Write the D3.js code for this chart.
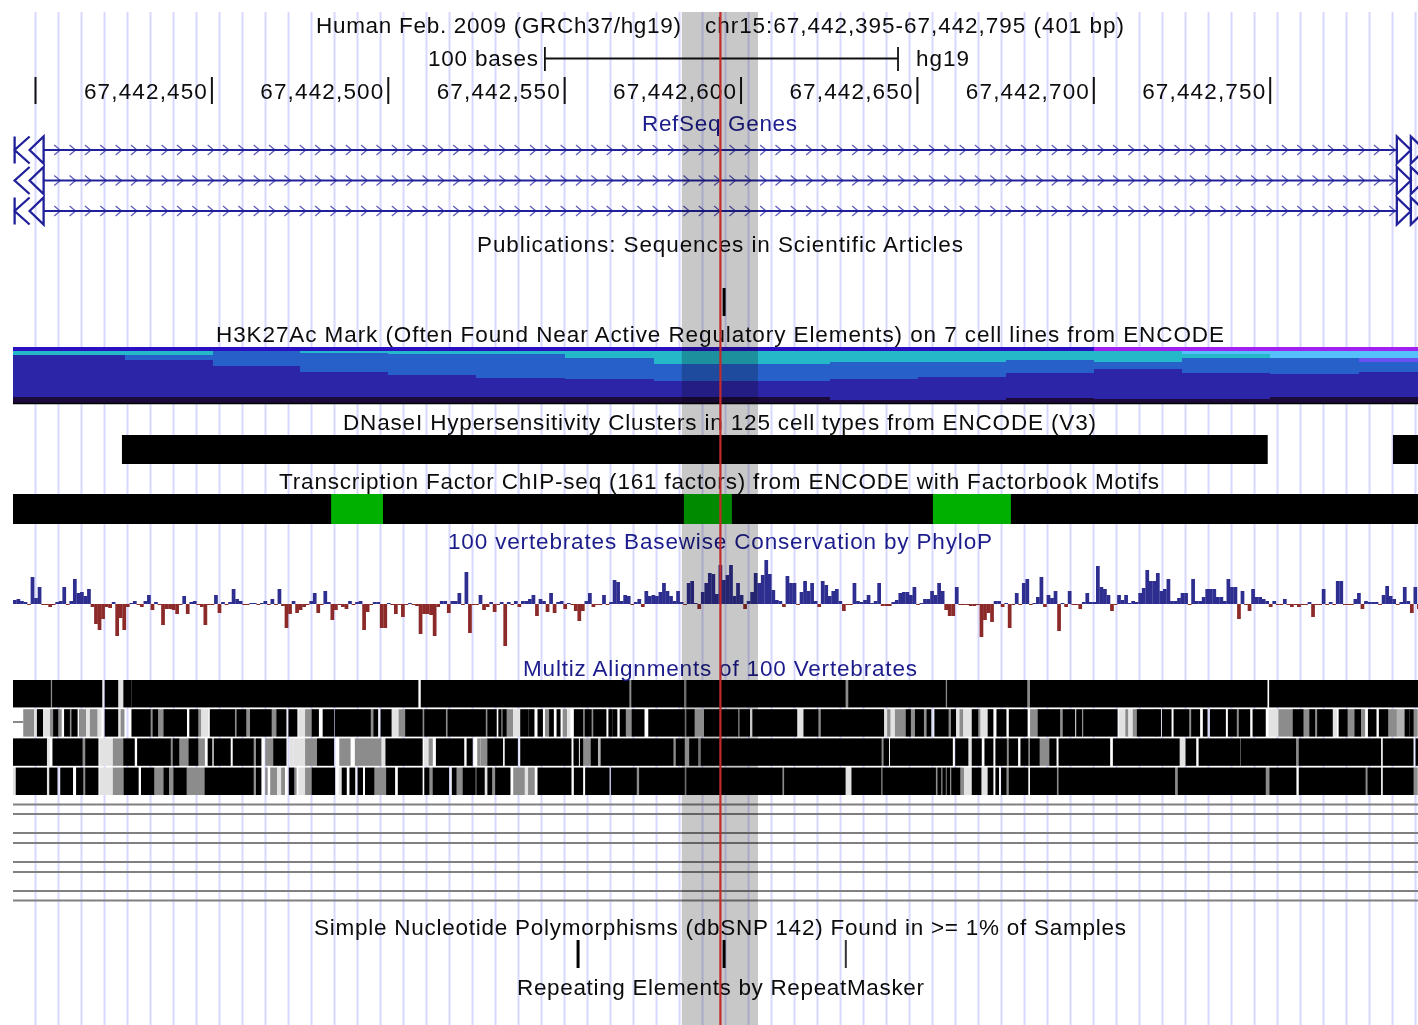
<!DOCTYPE html>
<html><head><meta charset="utf-8">
<script src="https://cdn.jsdelivr.net/npm/d3@7/dist/d3.min.js"></script>
<style>
html,body{margin:0;padding:0;background:#fff;overflow:hidden}
svg{display:block;filter:blur(0.55px)}
text{font-family:"Liberation Sans",Arial,sans-serif;font-size:22.5px;fill:#0c0c0c}
</style></head><body>
<svg id="c" width="1418" height="1025"></svg>
<script>
// ---------- data (genomic positions on chr15, phyloP-like scores, signal layers) ----------
const chromBase = 67442000;
const viewStart = 393.62, viewEnd = 791.9;
const rulerTicks = [400,450,500,550,600,650,700,750];
const highlightRange = [583.2,604.8];
const cursorPos = 594.15;
const scaleBarRange = [544.4,644.5];

const trackTitles = [
 "Human Feb. 2009 (GRCh37/hg19)",
 "chr15:67,442,395-67,442,795 (401 bp)",
 "100 bases","hg19",
 "RefSeq Genes",
 "Publications: Sequences in Scientific Articles",
 "H3K27Ac Mark (Often Found Near Active Regulatory Elements) on 7 cell lines from ENCODE",
 "DNaseI Hypersensitivity Clusters in 125 cell types from ENCODE (V3)",
 "Transcription Factor ChIP-seq (161 factors) from ENCODE with Factorbook Motifs",
 "100 vertebrates Basewise Conservation by PhyloP",
 "Multiz Alignments of 100 Vertebrates",
 "Simple Nucleotide Polymorphisms (dbSNP 142) Found in >= 1% of Samples",
 "Repeating Elements by RepeatMasker"];

const geneSpan = [402.3,785.9];
const geneLeftBar = [true,false,true];
const pubMarks = [595.2];
const snpMarks = [553.8,595.2,629.7];
const dnaseBlocks = [[424.5,749.3],[784.8,791.9]];
const tfSpan = [393.62,791.9];
const tfMotifs = [[483.8,498.5],[583.8,597.4],[654.4,676.5]];

const h3Edges = [393.62,425.4,450.2,475,499.9,524.9,550.1,575.3,600.3,625.2,650.1,675.1,700,725,749.9,775.1,791.9];
const h3Dark    = [6,6,6,6,6,6,6,6,6,3,3,5,4,4,6,6];
const h3Indigo  = [42,37,31,25,22,19,18,16,16,21,23,25,30,26,23,25];
const h3Blue    = [0,5,15,19,21,24,21,17,17,17,15,13,7,15,16,10];
const h3Purple  = [0,0,0,0,0,0,0,0,0,0,0,0,0,0,0,4];
const h3Teal    = [4,4,0,2,3,3,7,13,13,11,11,9,11,4,0,0];
const h3Sky     = [0,0,0,0,0,0,0,0,0,0,0,0,0,3,7,7];
const h3TopBlue = [4,4,4,4,4,4,4,4,4,4,4,4,0,0,0,0];
const h3TopPink = [0,0,0,0,0,0,0,0,0,0,0,0,4,4,4,4];

const phyloScores = [
4,5,3,2,-1,27,6,17,-1,-1,-3,-1,2,3,17,-1,3,25,11,12,8,15,-3,-20,-26,-15,-3,-4,2,-32,
-14,-26,-3,1,3,-1,-3,3,9,-6,2,-1,-21,-5,-5,-6,-10,-1,8,-10,2,3,-1,-3,-21,-1,-1,9,-9,2,
-1,2,15,5,3,-1,-1,1,1,-1,1,3,-1,5,-1,15,-2,-24,-10,3,-9,-6,-3,-1,3,11,-9,-1,13,2,
-16,-6,-1,-3,-5,3,-1,2,3,-26,-8,-1,2,2,-24,-24,1,-1,-10,-1,-13,-1,1,-1,-2,-30,-10,-10,-11,-32,
-3,3,3,-9,3,3,11,-1,32,-29,-1,-1,9,-6,-3,2,-8,-1,2,-42,2,-1,3,-3,3,3,5,9,-12,5,
3,-8,11,-9,2,3,-5,1,-1,-7,-17,-7,3,11,-3,-1,-1,9,-1,2,24,22,3,9,8,-1,2,5,-3,13,
8,9,8,12,21,13,8,3,13,2,-1,21,23,1,-5,12,21,31,30,10,39,24,29,39,8,21,9,-5,3,12,
31,21,29,44,30,14,4,3,-3,28,21,21,-1,12,23,13,21,3,-3,23,19,8,13,15,3,-7,-1,-1,21,3,
2,4,9,1,3,21,-2,-2,-2,2,4,11,12,12,9,17,-1,1,5,5,13,9,21,13,-6,-12,-12,17,-1,-1,
-1,-2,-2,-1,-33,-16,-9,-18,3,3,-3,1,-24,-1,11,-1,21,25,-1,1,7,27,-3,9,6,13,-27,1,-3,13,
-1,-1,-5,2,11,2,2,38,17,15,9,-7,-1,9,4,9,1,3,2,11,16,34,23,23,31,13,15,25,3,3,
6,11,11,-1,25,3,3,7,15,15,15,7,7,3,25,17,17,-15,13,-1,-7,15,7,7,5,3,-3,3,-1,-1,
5,-1,-3,-1,-3,-1,-1,2,-13,-1,-1,15,-1,2,-1,23,23,-1,-1,-1,5,11,-5,3,2,2,2,-1,9,18,
8,5,-1,2,17,3,-9,17,-5];

// alignment blocks: [first base offset, last base offset, shade index]
const shades = ["#000000","#8c8c8c","#b2b2b2","#e2e2e2"];
const alignRow1 = [[0,10.5,0],[10.5,11.3,1],[11.3,25.1,0],[26.2,29.6,0],[29.6,31.5,3],[31.5,33.4,0],[33.4,33.9,1],[33.9,114.7,0],[115.8,174.5,0],[174.5,175.5,1],[175.5,190,0],[190,191.1,1],[191.1,235.8,0],[235.8,237,1],[237,264.2,0],[264.2,265,1],[265,287.3,0],[287.3,288.5,1],[288.5,355.4,0],[356.3,398.2,0]];
const alignRow2 = [[2.9,6,1],[6,7,3],[7,8.3,0],[8.6,10.5,3],[10.5,11.6,1],[11.6,12.6,0],[12.6,13.8,1],[14.7,15.9,0],[15.9,16.8,1],[16.8,18.1,0],[18.7,20.7,1],[20.7,21.8,3],[21.8,24,1],[24,25.1,3],[26.2,29.6,0],[29.6,30.5,3],[30.5,31.6,1],[33.8,38.8,0],[38.8,39.8,1],[39.8,40.9,0],[40.9,42.9,1],[42.9,49.1,0],[50.2,52.3,0],[52.3,53.4,1],[53.4,55.4,3],[56,62.7,0],[62.7,63.6,1],[63.6,65.9,0],[65.9,67.4,1],[67.4,73.1,0],[73.1,74.9,1],[74.9,77.3,0],[78.3,80.4,0],[80.9,82.8,3],[82.8,84.9,1],[84.9,86.5,0],[88,90.8,0],[91.4,101.2,0],[101.2,102.4,1],[102.4,103.3,0],[104.4,107.1,0],[107.1,109.3,3],[109.3,111.4,1],[111.4,115.9,0],[115.9,116.8,1],[116.8,122.5,0],[122.5,123.4,1],[123.4,133.8,0],[133.8,134.7,1],[134.7,136.9,0],[137.8,138.2,0],[138.2,139,1],[139,139.7,0],[139.7,141.8,1],[141.8,143.9,3],[144,146,0],[146.5,147.6,0],[148.9,150,0],[150.8,152.2,1],[152.2,153.1,0],[154.3,155,0],[155.8,157.1,1],[157.1,158,3],[159.2,161.4,0],[161.4,162.3,1],[162.3,163.8,0],[163.8,164.7,1],[164.7,168,0],[169,169.7,0],[170.1,171.1,0],[172.2,173.5,0],[173.5,175.6,1],[175.6,178.8,0],[180.3,190.2,0],[190.2,191.1,1],[191.1,193,0],[193,196.1,2],[196.1,205.3,0],[205.3,206.2,1],[206.2,208.7,0],[209.8,222.1,0],[222.4,224.3,3],[224.3,228.1,0],[228.1,229.2,1],[229.2,246.7,0],[246.7,247.8,3],[247.8,248.8,1],[248.8,250,3],[250,253.3,1],[253.3,254.3,0],[254.3,255.9,1],[255.9,258,0],[258,259.2,1],[259.2,260.1,0],[261.4,265,0],[265,266.1,1],[266.1,267.1,0],[267.1,268.3,3],[268.3,269.4,1],[269.4,272,3],[272,273.4,0],[273.4,274.3,1],[274.3,276.2,3],[276.5,277.7,0],[279,281.4,0],[282.5,287.4,0],[288.3,290.7,1],[290.7,296.6,0],[296.6,297.8,1],[297.8,300.9,0],[301.6,302.8,0],[302.8,303.6,1],[303.6,312.9,0],[313.4,315.3,3],[315.3,316.2,1],[316.2,317.4,3],[317.4,318.8,1],[318.8,323.8,0],[323.8,324.2,1],[324.2,325.2,0],[325.9,328.2,0],[329.2,333.2,0],[333.2,334.2,1],[334.2,336.3,0],[337.5,338.4,0],[339.5,343.6,0],[344.6,346.7,0],[346.7,347.7,1],[347.7,350.5,0],[351.6,354.9,0],[355.9,358.7,3],[358.7,363,1],[363,365.6,0],[365.6,367.7,1],[367.7,368.9,0],[368.9,369.9,1],[369.9,373.9,0],[373.9,375.3,3],[376,378.1,0],[378.1,380.5,1],[380.5,381.9,0],[381.9,383.3,1],[384.3,386.3,0],[387.4,389.6,0],[389.6,392.3,1],[392.3,394.7,2],[394.7,395.7,0],[396.1,396.8,0],[396.8,398.2,1]];
const alignRow3 = [[0,9.4,0],[9.4,10.4,3],[11.4,19.5,0],[19.5,20.7,1],[20.7,24,0],[24.5,28.3,3],[28.3,31.5,1],[31.5,34.3,0],[35.4,44.5,0],[44.5,45.5,1],[45.5,46.9,0],[46.9,50,1],[50,52.3,0],[52.3,54.4,1],[55.4,56.3,0],[57.1,61.5,0],[62.5,68,0],[68,69.1,1],[69.1,70.2,0],[71.5,74,1],[74,77.3,0],[78.3,79.5,3],[79.5,82.8,3],[82.8,86.4,1],[86.4,90.8,0],[92.5,95.7,1],[96.9,104.5,1],[104.5,105.8,3],[105.8,115.9,0],[116.5,117.8,3],[117.8,119,1],[120.1,127.7,0],[128.8,130.1,0],[131.6,132.5,1],[132.5,134.7,1],[134.7,138.7,0],[139.6,142.9,0],[144,158.1,0],[159.1,160.2,0],[160.9,161.4,0],[161.4,164,1],[164,165.6,0],[165.6,166.8,2],[166.8,187,0],[187,188.1,1],[188.1,190.2,0],[190.2,191.9,2],[191.9,194,0],[194,195.2,1],[195.2,246,0],[246,247,1],[247,248.1,0],[248.8,266.2,0],[267.3,270.6,0],[270.6,272,3],[272,274.4,0],[275.6,277.7,0],[278.7,281.5,0],[281.5,282.5,1],[282.5,284.7,0],[285.8,287.6,0],[287.6,288.5,1],[288.5,290.8,0],[290.8,294,1],[294,295.6,0],[296.6,310.8,0],[312,330.5,0],[330.5,332.6,3],[332.6,335.2,0],[336.3,347.7,0],[347.7,348.3,1],[348.3,363.5,0],[363.5,364.7,1],[364.7,387.6,0],[388.5,396.8,0],[397.8,398.2,0]];
const alignRow4 = [[0,1,3],[1,9.4,0],[9.4,10.5,3],[10.5,12.4,0],[13.6,16.8,0],[18.1,19.7,0],[19.7,20.7,1],[20.7,24,0],[24.5,28.3,3],[28.3,31.6,1],[31.6,35.4,0],[36.5,39.8,0],[39.8,42.9,1],[42.9,44,0],[44,45.7,1],[45.7,49,0],[49,54.3,1],[54.5,68,0],[68,69.1,1],[69.1,70.2,0],[71.5,72.2,1],[72.9,74.9,1],[74.9,76,3],[76,77.1,1],[78.4,79.5,0],[79.5,80.4,1],[80.9,82.8,3],[82.8,84.9,1],[84.9,91.1,0],[92.3,93.4,3],[93.4,94.4,0],[95.6,96.8,0],[97.9,99,0],[100,102.2,0],[102.2,106,1],[106,108.1,0],[109.3,115.9,0],[116.8,117.8,0],[117.8,119.2,1],[119.2,123.4,0],[124.6,125.5,0],[125.5,127.7,1],[127.7,130.9,0],[130.9,131.6,1],[131.6,133.5,0],[133.5,134.7,3],[134.7,135.6,0],[135.6,136.9,1],[136.9,140.8,0],[141.8,145.1,1],[145.1,146,3],[146,147.9,1],[148.9,158.1,0],[159.2,161.4,0],[162.4,168.9,0],[169.7,176.6,0],[176.6,177.7,1],[177.7,190.2,0],[190.2,191.1,1],[191.1,217.9,0],[217.9,218.8,1],[218.8,235.8,0],[235.8,237.9,3],[237.9,245.9,0],[245.9,246.7,1],[246.7,261.4,0],[261.4,262.3,1],[262.3,262.9,0],[262.9,263.7,1],[263.7,264.2,0],[264.2,264.9,1],[264.9,265.4,0],[265.4,266.2,1],[266.2,268.3,0],[268.3,269.6,1],[269.6,272,3],[272,274.3,0],[274.3,276.5,3],[276.5,277.7,0],[278.7,279.3,0],[280.3,281.4,0],[281.4,282.5,1],[282.5,287.6,0],[288.5,295.7,0],[295.7,296.6,1],[296.6,329.2,0],[329.2,330.4,1],[330.4,354.9,0],[354.9,356.4,1],[356.4,363.6,0],[364.7,383.2,0],[383.2,384.2,1],[384.2,387.6,0],[388.5,396.8,0],[396.8,398.2,1]];
const stubSpan = [0,2.9];
const emptySpeciesRows = [0,1,2,3,4,5,6,7];

// ---------- layout ----------
const W=1418,H=1025, topY=12;
const titleLayout=[[316,33.2,365],[705,33.2,419],[428,66.2,110],[916,66.2,53],[642,131.2,155],[477,252.2,486],[216,342.2,1008],[343,430.2,753],[279,489.2,880],[448,549.2,544],[523,676.2,394],[314,935.2,812],[517,995.2,407]];
const blueTitles=new Set([4,9,10]);
const svg=d3.select("#c");
const x=d3.scaleLinear().domain([chromBase+viewStart,chromBase+viewEnd]).range([13,1418]);
const gx=v=>x(chromBase+v);
const bx=i=>x(chromBase+viewStart+i);

// grid
const grid=d3.range(400,viewEnd,6.52);
svg.append("g").selectAll("line").data(grid).join("line")
 .attr("x1",gx).attr("x2",gx).attr("y1",topY).attr("y2",H)
 .attr("stroke","#d8d8ff").attr("stroke-width",2);

// H3K27Ac stacked signal
const h3Keys=["dark","indigo","blue","purple","teal","sky","topBlue","topPink"];
const h3Cols={dark:"#1c0a3c",indigo:"#2d25a8",blue:"#2660c8",purple:"#6a50f0",teal:"#25b8c8",sky:"#55c0fa",topBlue:"#2a10c0",topPink:"#a020f0"};
const h3Rows=h3Dark.map((_,i)=>({dark:h3Dark[i],indigo:h3Indigo[i],blue:h3Blue[i],purple:h3Purple[i],teal:h3Teal[i],sky:h3Sky[i],topBlue:h3TopBlue[i],topPink:h3TopPink[i],i}));
const h3y=d3.scaleLinear().domain([0,56]).range([403,347]);
svg.append("g").attr("shape-rendering","crispEdges").selectAll("g").data(d3.stack().keys(h3Keys)(h3Rows)).join("g").attr("fill",s=>h3Cols[s.key])
 .selectAll("rect").data(s=>s).join("rect")
 .attr("x",d=>gx(h3Edges[d.data.i])).attr("width",d=>gx(h3Edges[d.data.i+1])-gx(h3Edges[d.data.i]))
 .attr("y",d=>h3y(d[1])).attr("height",d=>h3y(d[0])-h3y(d[1]));
svg.append("line").attr("x1",13).attr("x2",W).attr("y1",403.5).attr("y2",403.5).attr("stroke","#000").attr("stroke-width",1.5);

// ruler axis
const axis=d3.axisBottom(x).tickValues(rulerTicks.map(t=>chromBase+t)).tickSize(27).offset(0)
 .tickFormat((d,i)=>i===0?"":d3.format(",")(d));
const ag=svg.append("g").attr("transform","translate(0,77)").call(axis);
ag.select(".domain").remove();
ag.selectAll("line").attr("stroke","#111").attr("stroke-width",2);
ag.selectAll("text").attr("text-anchor","end").attr("x",-5).attr("y",22.2).attr("dy",0).attr("textLength",123).attr("lengthAdjust","spacing").attr("font-size",null).attr("font-family",null);

// scale bar
const sb=[gx(scaleBarRange[0]),gx(scaleBarRange[1])];
svg.append("path").attr("d",`M${sb[0]},47V71M${sb[0]},58.5H${sb[1]}M${sb[1]},47V71`).attr("stroke","#111").attr("stroke-width",1.8).attr("fill","none");

// genes
const geneBlue="#20209a", geneY=d3.scalePoint().domain([0,1,2]).range([150,211]);
const chevrons=d3.range(geneSpan[0]+4,geneSpan[1],4.35);
const gg=svg.append("g").selectAll("g").data(geneLeftBar).join("g").attr("transform",(d,i)=>`translate(0,${geneY(i)})`);
gg.append("path").attr("fill","none").attr("stroke","#5c5cb8").attr("stroke-width",1.3)
 .attr("d",chevrons.map(c=>`M${gx(c)-3.5},-5L${gx(c)+2.5},0L${gx(c)-3.5},5`).join(""));
gg.append("line").attr("x1",gx(geneSpan[0])).attr("x2",gx(geneSpan[1])).attr("stroke",geneBlue).attr("stroke-width",2.2);
gg.append("path").attr("fill","none").attr("stroke",geneBlue).attr("stroke-width",2.3)
 .attr("d",d=>{const a=gx(geneSpan[0]),b=gx(geneSpan[1]);
  return `M${a},-13.5V13.5L${a-14},0Z M${a-14},-13.5L${a-29},0L${a-14},13.5`+(d?`M${a-29},-13.5V13.5`:"")
   +`M${b},-13.5V13.5L${b+14},0Z M${b+14},-13.5V13.5L${b+28},0Z`;});

// publications + SNP marks
svg.append("g").selectAll("line").data(pubMarks).join("line").attr("x1",gx).attr("x2",gx).attr("y1",288).attr("y2",316).attr("stroke","#000").attr("stroke-width",3);
svg.append("g").selectAll("line").data(snpMarks).join("line").attr("x1",gx).attr("x2",gx).attr("y1",940).attr("y2",968)
 .attr("stroke",(d,i)=>i==2?"#333":"#000").attr("stroke-width",(d,i)=>i==2?2:3);

// DNase, TF
svg.append("g").selectAll("rect").data(dnaseBlocks).join("rect").attr("x",d=>gx(d[0])).attr("width",d=>gx(d[1])-gx(d[0])).attr("y",435).attr("height",29).attr("fill","#000");
svg.append("rect").attr("x",gx(tfSpan[0])).attr("width",gx(tfSpan[1])-gx(tfSpan[0])).attr("y",494).attr("height",30).attr("fill","#000");
svg.append("g").selectAll("rect").data(tfMotifs).join("rect").attr("x",d=>gx(d[0])).attr("width",d=>gx(d[1])-gx(d[0])).attr("y",494).attr("height",30).attr("fill","#00b000");

// conservation
const y=d3.scaleLinear().domain([-45,45]).range([649,559]);
svg.append("g").selectAll("rect").data(phyloScores).join("rect")
 .attr("x",(d,i)=>bx(i)).attr("width",(d,i)=>bx(i+1)-bx(i)+0.2)
 .attr("y",d=>d>0?y(d):y(0)).attr("height",d=>Math.abs(y(d)-y(0)))
 .attr("fill",d=>d>0?"#2e2e90":"#8c2a2a");

// multiz
const rowY=d3.scaleBand().domain([0,1,2,3]).range([680,795]).paddingInner(0.06);
const inkPad=0.22;
const blockLeft=d=>Math.max(13,bx(d[0])-(d[2]===0?inkPad*3.5:0));
const blockRight=d=>bx(d[1])+(d[2]===0?inkPad*3.5:0);
svg.append("g").selectAll("g").data([alignRow1,alignRow2,alignRow3,alignRow4]).join("g")
 .attr("transform",(d,i)=>`translate(0,${rowY(i)})`)
 .selectAll("rect").data(d=>d3.sort(d,e=>e[2]===0?1:0)).join("rect")
 .attr("x",blockLeft).attr("width",d=>blockRight(d)-blockLeft(d))
 .attr("height",rowY.bandwidth()).attr("fill",d=>shades[d[2]]);
svg.append("line").attr("x1",bx(stubSpan[0])).attr("x2",bx(stubSpan[1])).attr("y1",722).attr("y2",722).attr("stroke","#888").attr("stroke-width",2);
const speciesY=d3.scaleOrdinal().domain(emptySpeciesRows).range([804.5,814,833,843,862,872,891,900.5]);
svg.append("g").selectAll("line").data(emptySpeciesRows).join("line").attr("x1",13).attr("x2",W).attr("y1",speciesY).attr("y2",speciesY).attr("stroke","#808080").attr("stroke-width",1.9);

// titles
svg.append("g").selectAll("text").data(trackTitles).join("text")
 .attr("x",(d,i)=>titleLayout[i][0]).attr("y",(d,i)=>titleLayout[i][1]).attr("textLength",(d,i)=>titleLayout[i][2]).attr("lengthAdjust","spacing")
 .style("fill",(d,i)=>blueTitles.has(i)?"#1c1c8c":null).text(d=>d);

// highlight & cursor
svg.append("rect").attr("x",gx(highlightRange[0])).attr("width",gx(highlightRange[1])-gx(highlightRange[0])).attr("y",topY).attr("height",H-topY)
 .attr("fill","#c8c8c8").style("mix-blend-mode","multiply");
svg.append("line").attr("x1",gx(cursorPos)).attr("x2",gx(cursorPos)).attr("y1",topY).attr("y2",H).attr("stroke","#c42a2a").attr("stroke-width",2.2);
</script></body></html>
